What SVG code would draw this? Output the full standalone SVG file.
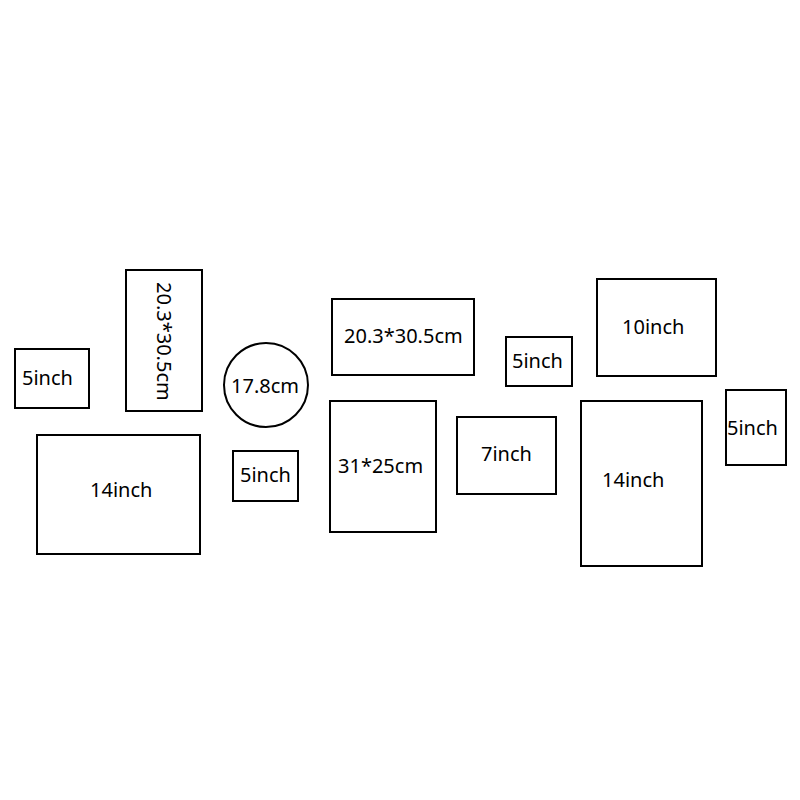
<svg xmlns="http://www.w3.org/2000/svg" width="800" height="800" viewBox="0 0 800 800">
<style>
.f{fill:none;stroke:#000;stroke-width:2}
.t{font-family:"Noto Sans","Open Sans","DejaVu Sans",sans-serif;font-size:20px;fill:#000}
</style>
<rect width="800" height="800" fill="#fff"/>
<g id="n1"><rect class="f" x="15" y="349" width="74" height="59"/><text class="t" x="22" y="385">5inch</text></g>
<g id="n2"><rect class="f" x="126" y="270" width="76" height="141"/><text class="t" transform="translate(157,282) rotate(90)" x="0" y="0">20.3*30.5cm</text></g>
<g id="n3"><circle class="f" cx="266" cy="385" r="42"/><text class="t" x="231" y="393">17.8cm</text></g>
<g id="n4"><rect class="f" x="37" y="435" width="163" height="119"/><text class="t" x="90" y="497">14inch</text></g>
<g id="n5"><rect class="f" x="233" y="451" width="65" height="50"/><text class="t" x="240" y="482">5inch</text></g>
<g id="n6"><rect class="f" x="332" y="299" width="142" height="76"/><text class="t" x="344" y="343">20.3*30.5cm</text></g>
<g id="n7"><rect class="f" x="506" y="337" width="66" height="49"/><text class="t" x="512" y="368">5inch</text></g>
<g id="n8"><rect class="f" x="330" y="401" width="106" height="131"/><text class="t" x="338" y="473">31*25cm</text></g>
<g id="n9"><rect class="f" x="457" y="417" width="99" height="77"/><text class="t" x="481" y="461">7inch</text></g>
<g id="n10"><rect class="f" x="597" y="279" width="119" height="97"/><text class="t" x="622" y="334">10inch</text></g>
<g id="n11"><rect class="f" x="726" y="390" width="60" height="75"/><text class="t" x="727" y="435">5inch</text></g>
<g id="n12"><rect class="f" x="581" y="401" width="121" height="165"/><text class="t" x="602" y="487">14inch</text></g>
<g id="connectors"></g>
</svg>
